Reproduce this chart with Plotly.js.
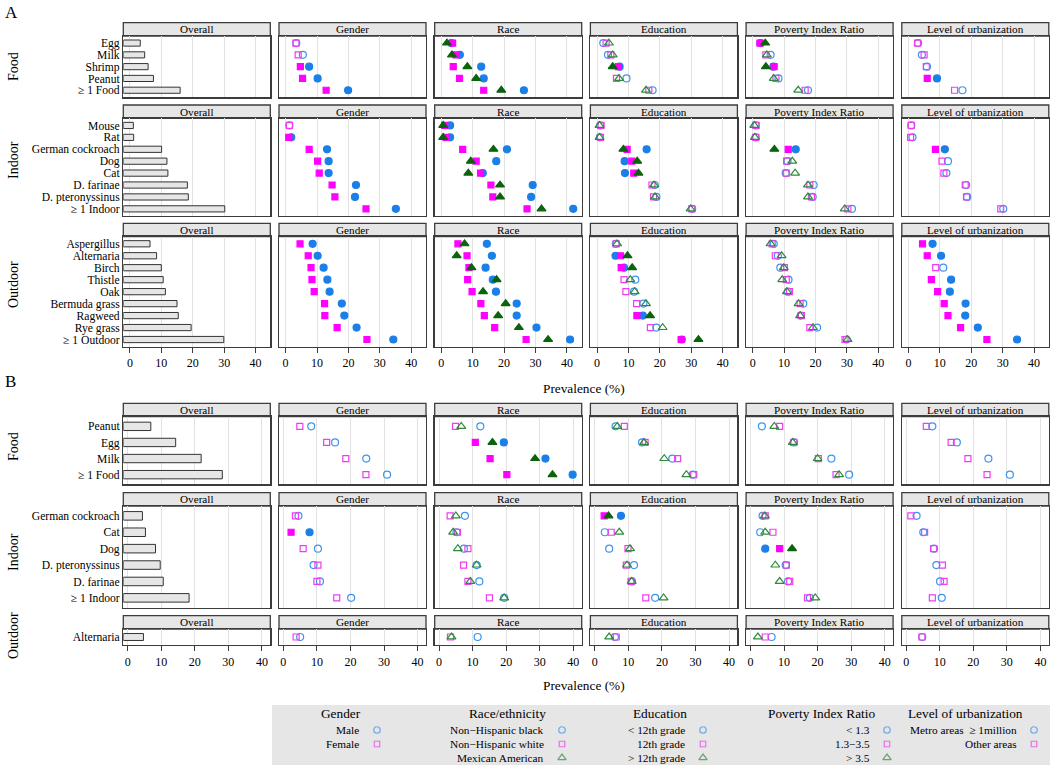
<!DOCTYPE html>
<html><head><meta charset="utf-8">
<script src="https://cdn.plot.ly/plotly-3.0.1.min.js"></script>
<style>html,body{margin:0;padding:0;background:#fff}#chart{width:1050px;height:765px}</style>
</head><body><div id="chart"></div>
<script>
// ---------------- DATA ----------------
// Panel A - Food
const A_food_items = ['Egg','Milk','Shrimp','Peanut','≥ 1 Food'];
const A_food_overall = [3.3, 4.7, 5.8, 7.5, 16.0];
const A_food_male = [3.4, 5.5, 7.5, 10.2, 19.9];
const A_food_female = [3.3, 4.0, 4.7, 5.4, 12.9];
const A_food_gender_sig = [0,0,1,1,1];
const A_food_black = [3.2, 5.9, 12.7, 13.5, 26.3];
const A_food_white = [3.6, 4.7, 3.8, 5.8, 13.5];
const A_food_mexican = [1.8, 3.4, 8.3, 11.1, 19.1];
const A_food_race_sig = [1,1,1,1,1];
const A_food_edu_lt12 = [2.0, 3.5, 7.2, 9.4, 17.7];
const A_food_edu_12 = [2.9, 4.4, 6.8, 6.2, 16.5];
const A_food_edu_gt12 = [3.8, 5.0, 5.0, 7.0, 15.6];
const A_food_edu_sig = [0,0,1,0,0];
const A_food_pir_lt13 = [2.5, 5.7, 6.6, 8.2, 17.6];
const A_food_pir_13to35 = [2.3, 4.2, 6.8, 7.4, 16.7];
const A_food_pir_gt35 = [4.0, 4.5, 4.2, 6.7, 14.5];
const A_food_pir_sig = [1,0,1,0,0];
const A_food_metro = [3.1, 4.3, 5.9, 9.1, 17.2];
const A_food_other = [2.9, 5.0, 5.7, 6.0, 14.7];
const A_food_urban_sig = [0,0,0,1,0];

// Panel A - Indoor
const A_indoor_items = ['Mouse','Rat','German cockroach','Dog','Cat','D. farinae','D. pteronyssinus','≥ 1 Indoor'];
const A_indoor_overall = [1.1, 1.2, 10.1, 11.8, 12.1, 18.3, 18.6, 30.2];
const A_indoor_male = [1.2, 1.8, 13.2, 13.7, 13.7, 22.4, 22.1, 35.1];
const A_indoor_female = [1.2, 1.0, 7.5, 10.2, 10.7, 14.8, 15.7, 25.6];
const A_indoor_gender_sig = [0,1,1,1,1,1,1,1];
const A_indoor_black = [2.8, 2.8, 20.9, 17.5, 13.2, 29.1, 28.6, 42.0];
const A_indoor_white = [1.1, 1.5, 6.8, 11.1, 12.5, 15.8, 16.4, 27.3];
const A_indoor_mexican = [0.6, 0.6, 16.6, 9.4, 8.6, 18.7, 18.7, 31.9];
const A_indoor_race_sig = [1,1,1,1,1,1,1,1];
const A_indoor_edu_lt12 = [1.0, 0.9, 15.8, 8.8, 8.9, 18.4, 18.9, 30.3];
const A_indoor_edu_12 = [1.3, 1.1, 9.6, 11.1, 11.7, 17.5, 18.0, 30.2];
const A_indoor_edu_gt12 = [0.8, 0.8, 8.4, 12.8, 13.2, 18.2, 18.5, 29.8];
const A_indoor_edu_sig = [0,0,1,1,1,0,0,0];
const A_indoor_pir_lt13 = [0.9, 0.9, 13.7, 11.1, 10.5, 19.4, 19.1, 31.6];
const A_indoor_pir_13to35 = [1.1, 1.0, 11.3, 10.8, 10.7, 18.2, 18.7, 30.3];
const A_indoor_pir_gt35 = [0.5, 0.7, 6.9, 12.6, 13.5, 17.6, 17.6, 29.3];
const A_indoor_pir_sig = [0,0,1,0,0,0,0,0];
const A_indoor_metro = [0.9, 1.3, 11.6, 12.6, 12.1, 18.4, 18.7, 30.2];
const A_indoor_other = [0.9, 0.7, 8.6, 10.7, 11.3, 18.1, 18.5, 29.4];
const A_indoor_urban_sig = [0,0,1,0,0,0,0,0];

// Panel A - Outdoor
const A_outdoor_items = ['Aspergillus','Alternaria','Birch','Thistle','Oak','Bermuda grass','Ragweed','Rye grass','≥ 1 Outdoor'];
const A_outdoor_overall = [6.4, 8.5, 10.0, 10.6, 11.3, 15.0, 15.4, 19.5, 29.9];
const A_outdoor_male = [8.6, 10.2, 12.1, 13.3, 14.0, 17.9, 18.7, 22.6, 34.3];
const A_outdoor_female = [4.6, 7.2, 8.1, 8.4, 9.1, 12.4, 12.5, 16.4, 25.9];
const A_outdoor_gender_sig = [1,1,1,1,1,1,1,1,1];
const A_outdoor_black = [14.5, 16.1, 14.1, 16.4, 17.4, 24.0, 24.0, 30.3, 41.0];
const A_outdoor_white = [5.3, 8.2, 8.8, 8.4, 9.8, 12.6, 13.7, 17.0, 27.0];
const A_outdoor_mexican = [7.4, 4.9, 9.6, 17.6, 13.3, 20.5, 18.1, 24.7, 34.0];
const A_outdoor_race_sig = [1,1,1,1,1,1,1,1,1];
const A_outdoor_edu_lt12 = [6.0, 5.9, 8.6, 12.2, 11.8, 14.8, 14.6, 18.9, 27.0];
const A_outdoor_edu_12 = [6.1, 7.5, 7.7, 8.6, 9.2, 12.6, 12.7, 17.0, 26.8];
const A_outdoor_edu_gt12 = [6.4, 9.7, 11.2, 10.6, 12.0, 15.6, 16.9, 20.9, 32.3];
const A_outdoor_edu_sig = [0,1,1,0,0,0,1,0,1];
const A_outdoor_pir_lt13 = [6.7, 8.0, 8.8, 11.4, 11.2, 16.1, 15.3, 20.5, 29.9];
const A_outdoor_pir_13to35 = [6.2, 7.2, 10.1, 10.7, 11.7, 15.1, 15.5, 18.2, 29.4];
const A_outdoor_pir_gt35 = [5.7, 9.2, 9.9, 9.4, 10.9, 14.6, 15.1, 19.2, 30.2];
const A_outdoor_pir_sig = [0,0,0,0,0,0,0,0,0];
const A_outdoor_metro = [7.7, 10.4, 11.1, 13.6, 13.2, 18.2, 18.1, 22.1, 34.6];
const A_outdoor_other = [4.5, 6.0, 8.7, 7.3, 9.3, 11.4, 12.6, 16.6, 25.0];
const A_outdoor_urban_sig = [1,1,0,1,1,1,1,1,1];

// Panel B - Food
const B_food_items = ['Peanut','Egg','Milk','≥ 1 Food'];
const B_food_overall = [6.9, 14.3, 21.9, 28.2];
const B_food_male = [8.3, 15.4, 24.7, 30.9];
const B_food_female = [4.9, 12.9, 18.6, 24.6];
const B_food_gender_sig = [0,0,0,0];
const B_food_black = [12.3, 19.3, 31.7, 39.8];
const B_food_white = [4.9, 10.8, 15.2, 20.2];
const B_food_mexican = [6.6, 15.9, 28.6, 33.8];
const B_food_race_sig = [0,1,1,1];
const B_food_edu_lt12 = [6.2, 14.1, 23.1, 29.2];
const B_food_edu_12 = [8.8, 15.0, 24.7, 29.5];
const B_food_edu_gt12 = [6.7, 14.7, 20.7, 27.3];
const B_food_edu_sig = [0,0,0,0];
const B_food_pir_lt13 = [3.4, 13.0, 24.1, 29.4];
const B_food_pir_13to35 = [8.7, 12.9, 20.2, 25.5];
const B_food_pir_gt35 = [7.1, 12.6, 20.0, 26.4];
const B_food_pir_sig = [0,0,0,0];
const B_food_metro = [7.8, 15.1, 24.5, 30.9];
const B_food_other = [6.0, 13.4, 18.4, 24.1];
const B_food_urban_sig = [0,0,0,0];

// Panel B - Indoor
const B_indoor_items = ['German cockroach','Cat','Dog','D. pteronyssinus','D. farinae','≥ 1 Indoor'];
const B_indoor_overall = [4.4, 5.3, 8.3, 9.7, 10.6, 18.3];
const B_indoor_male = [4.5, 7.8, 10.3, 9.0, 10.9, 20.2];
const B_indoor_female = [3.6, 2.3, 5.9, 10.3, 10.0, 15.9];
const B_indoor_gender_sig = [0,1,0,0,0,0];
const B_indoor_black = [7.7, 5.2, 7.4, 11.2, 12.0, 19.4];
const B_indoor_white = [3.3, 5.5, 8.6, 7.3, 8.6, 15.0];
const B_indoor_mexican = [5.0, 4.2, 5.6, 11.2, 9.3, 19.4];
const B_indoor_race_sig = [0,0,0,0,0,0];
const B_indoor_edu_lt12 = [7.8, 3.0, 4.3, 11.7, 11.1, 18.0];
const B_indoor_edu_12 = [2.8, 4.9, 9.9, 9.4, 10.8, 15.2];
const B_indoor_edu_gt12 = [4.1, 7.3, 10.5, 9.6, 11.0, 20.5];
const B_indoor_edu_sig = [1,0,0,0,0,0];
const B_indoor_pir_lt13 = [3.6, 2.9, 4.4, 10.5, 11.2, 17.7];
const B_indoor_pir_13to35 = [4.4, 6.7, 8.7, 10.7, 11.7, 17.0];
const B_indoor_pir_gt35 = [4.3, 4.4, 12.4, 7.4, 8.7, 19.3];
const B_indoor_pir_sig = [0,0,1,0,0,0];
const B_indoor_metro = [3.1, 5.1, 8.3, 9.0, 10.1, 10.6];
const B_indoor_other = [1.4, 5.5, 8.2, 10.8, 11.3, 7.8];
const B_indoor_urban_sig = [0,0,0,0,0,0];

// Panel B - Outdoor
const B_outdoor_items = ['Alternaria'];
const B_outdoor_overall = [4.7];
const B_outdoor_male = [5.0];
const B_outdoor_female = [3.8];
const B_outdoor_gender_sig = [0];
const B_outdoor_black = [11.5];
const B_outdoor_white = [3.4];
const B_outdoor_mexican = [3.7];
const B_outdoor_race_sig = [0];
const B_outdoor_edu_lt12 = [6.0];
const B_outdoor_edu_12 = [6.4];
const B_outdoor_edu_gt12 = [4.3];
const B_outdoor_edu_sig = [0];
const B_outdoor_pir_lt13 = [6.3];
const B_outdoor_pir_13to35 = [4.4];
const B_outdoor_pir_gt35 = [2.2];
const B_outdoor_pir_sig = [0];
const B_outdoor_metro = [4.8];
const B_outdoor_other = [4.7];
const B_outdoor_urban_sig = [0];

const columnTitles = ['Overall','Gender','Race','Education','Poverty Index Ratio','Level of urbanization'];
const xTickVals = [0, 10, 20, 30, 40];
const legendTitles = ['Gender','Race/ethnicity','Education','Poverty Index Ratio','Level of urbanization'];
const legendLabels = [
  ['Male','Female'],
  ['Non\u2212Hispanic black','Non\u2212Hispanic white','Mexican American'],
  ['< 12th grade','12th grade','> 12th grade'],
  ['< 1.3','1.3\u22123.5','> 3.5'],
  ['Metro areas  \u2265 1million','Other areas']
];

// ---------------- LAYOUT / STYLE ----------------
const W = 1050, H = 765;
const FONT = 'Liberation Serif, Times New Roman, serif';
const COL_X0 = [123.3, 279, 434.7, 590.4, 746.1, 901.8], COL_W = 147;
const STRIP_H = 13.3;
const SYM = ['circle','square','triangle-up'];
const FILL = ['#1a7fe8','#ff00ff','#0b630b'];
const OPEN = ['#3d94f0','#f03cf0','#2f8a3a'];
const SIZE = [7, 6, 7.8];
const XR_A = [-2.1, 44.7], XR_B = [-1.3, 42.5];

function sec(label, y0, y1, ylab, xr, axis, items, overall, groups, sig) {
  return {label, y0, y1, ylab, xr, axis, items, overall, groups, sig};
}
const sections = [
  sec('Food', 36, 97.3, 67, XR_A, false, A_food_items, A_food_overall,
    [[A_food_male, A_food_female],[A_food_black, A_food_white, A_food_mexican],[A_food_edu_lt12, A_food_edu_12, A_food_edu_gt12],[A_food_pir_lt13, A_food_pir_13to35, A_food_pir_gt35],[A_food_metro, A_food_other]],
    [A_food_gender_sig, A_food_race_sig, A_food_edu_sig, A_food_pir_sig, A_food_urban_sig]),
  sec('Indoor', 118.3, 216, 160, XR_A, false, A_indoor_items, A_indoor_overall,
    [[A_indoor_male, A_indoor_female],[A_indoor_black, A_indoor_white, A_indoor_mexican],[A_indoor_edu_lt12, A_indoor_edu_12, A_indoor_edu_gt12],[A_indoor_pir_lt13, A_indoor_pir_13to35, A_indoor_pir_gt35],[A_indoor_metro, A_indoor_other]],
    [A_indoor_gender_sig, A_indoor_race_sig, A_indoor_edu_sig, A_indoor_pir_sig, A_indoor_urban_sig]),
  sec('Outdoor', 236.6, 346.7, 285, XR_A, true, A_outdoor_items, A_outdoor_overall,
    [[A_outdoor_male, A_outdoor_female],[A_outdoor_black, A_outdoor_white, A_outdoor_mexican],[A_outdoor_edu_lt12, A_outdoor_edu_12, A_outdoor_edu_gt12],[A_outdoor_pir_lt13, A_outdoor_pir_13to35, A_outdoor_pir_gt35],[A_outdoor_metro, A_outdoor_other]],
    [A_outdoor_gender_sig, A_outdoor_race_sig, A_outdoor_edu_sig, A_outdoor_pir_sig, A_outdoor_urban_sig]),
  sec('Food', 416.7, 484.3, 447, XR_B, false, B_food_items, B_food_overall,
    [[B_food_male, B_food_female],[B_food_black, B_food_white, B_food_mexican],[B_food_edu_lt12, B_food_edu_12, B_food_edu_gt12],[B_food_pir_lt13, B_food_pir_13to35, B_food_pir_gt35],[B_food_metro, B_food_other]],
    [B_food_gender_sig, B_food_race_sig, B_food_edu_sig, B_food_pir_sig, B_food_urban_sig]),
  sec('Indoor', 506, 607.7, 552, XR_B, false, B_indoor_items, B_indoor_overall,
    [[B_indoor_male, B_indoor_female],[B_indoor_black, B_indoor_white, B_indoor_mexican],[B_indoor_edu_lt12, B_indoor_edu_12, B_indoor_edu_gt12],[B_indoor_pir_lt13, B_indoor_pir_13to35, B_indoor_pir_gt35],[B_indoor_metro, B_indoor_other]],
    [B_indoor_gender_sig, B_indoor_race_sig, B_indoor_edu_sig, B_indoor_pir_sig, B_indoor_urban_sig]),
  sec('Outdoor', 629, 645, 636, XR_B, true, B_outdoor_items, B_outdoor_overall,
    [[B_outdoor_male, B_outdoor_female],[B_outdoor_black, B_outdoor_white, B_outdoor_mexican],[B_outdoor_edu_lt12, B_outdoor_edu_12, B_outdoor_edu_gt12],[B_outdoor_pir_lt13, B_outdoor_pir_13to35, B_outdoor_pir_gt35],[B_outdoor_metro, B_outdoor_other]],
    [B_outdoor_gender_sig, B_outdoor_race_sig, B_outdoor_edu_sig, B_outdoor_pir_sig, B_outdoor_urban_sig])
];

const px = v => v / W, py = v => 1 - v / H;
const traces = [];
const layout = {
  width: W, height: H, margin: {l:0, r:0, t:0, b:0},
  paper_bgcolor: '#ffffff', plot_bgcolor: 'rgba(0,0,0,0)',
  showlegend: false, font: {family: FONT, color: '#000'},
  shapes: [], annotations: [], hovermode: false
};

let k = 0;
sections.forEach(s => {
  const n = s.items.length;
  for (let c = 0; c < 6; c++) {
    k++;
    const sfx = k === 1 ? '' : String(k);
    const xa = 'x' + sfx, ya = 'y' + sfx;
    layout['xaxis' + sfx] = {
      domain: [px(COL_X0[c]), px(COL_X0[c] + COL_W)], anchor: ya,
      range: s.xr, autorange: false, tickmode: 'array', tickvals: xTickVals, ticktext: xTickVals.map(String),
      showgrid: true, gridcolor: '#e2e2e2', gridwidth: 1, zeroline: false,
      showline: true, mirror: true, linecolor: '#3c3c3c', linewidth: 1.3,
      ticks: s.axis ? 'outside' : '', ticklen: 5, tickcolor: '#3c3c3c', tickwidth: 1,
      showticklabels: s.axis, tickfont: {family: FONT, size: 12, color: '#000'}
    };
    layout['yaxis' + sfx] = {
      domain: [py(s.y1), py(s.y0)], anchor: xa, type: 'category',
      categoryorder: 'array', categoryarray: s.items,
      tickmode: 'array', tickvals: s.items, ticktext: s.items,
      range: [n - 0.4, -0.6], autorange: false,
      showgrid: false, zeroline: false, showline: true, mirror: true,
      linecolor: '#3c3c3c', linewidth: 1.3, ticks: '',
      showticklabels: c === 0, tickfont: {family: FONT, size: 11.6, color: '#000'}
    };
    if (c === 0) {
      traces.push({
        type: 'bar', orientation: 'h', xaxis: xa, yaxis: ya,
        y: s.items, x: s.overall.map(v => v - s.xr[0]), base: s.xr[0], width: 0.52,
        marker: {color: '#e6e6e6', line: {color: '#333', width: 1}}
      });
    } else {
      const gs = s.groups[c - 1], sg = s.sig[c - 1];
      gs.forEach((vals, g) => {
        const cols = sg.map(f => f ? FILL[g] : OPEN[g]);
        traces.push({
          type: 'scatter', mode: 'markers', xaxis: xa, yaxis: ya,
          x: vals, y: s.items, cliponaxis: false,
          marker: {
            symbol: sg.map(f => f ? SYM[g] : SYM[g] + '-open'),
            color: cols, size: SIZE[g], line: {color: cols, width: 1.2}
          }
        });
      });
    }
    // strip
    layout.shapes.push({
      type: 'rect', xref: 'paper', yref: 'paper', layer: 'below',
      x0: px(COL_X0[c]), x1: px(COL_X0[c] + COL_W), y0: py(s.y0), y1: py(s.y0 - STRIP_H),
      fillcolor: '#e6e6e6', line: {color: '#3c3c3c', width: 1.3}
    });
    layout.annotations.push({
      xref: 'paper', yref: 'paper', x: px(COL_X0[c] + COL_W / 2), y: py(s.y0 - STRIP_H / 2),
      text: columnTitles[c], showarrow: false, xanchor: 'center', yanchor: 'middle',
      font: {family: FONT, size: 11.2, color: '#000'}
    });
  }
  layout.annotations.push({
    xref: 'paper', yref: 'paper', x: px(13), y: py(s.ylab), text: s.label, textangle: -90,
    showarrow: false, xanchor: 'center', yanchor: 'middle', font: {family: FONT, size: 14, color: '#000'}
  });
});

// panel letters and x titles
[['A', 1], ['B', 370]].forEach(([t, y]) => layout.annotations.push({
  xref: 'paper', yref: 'paper', x: px(3), y: py(y), text: t, showarrow: false,
  xanchor: 'left', yanchor: 'top', font: {family: FONT, size: 17, color: '#000'}
}));
[388, 685].forEach(y => layout.annotations.push({
  xref: 'paper', yref: 'paper', x: px(584), y: py(y), text: 'Prevalence (%)', showarrow: false,
  xanchor: 'center', yanchor: 'middle', font: {family: FONT, size: 13.3, color: '#000'}
}));

// legend
layout.shapes.push({type: 'rect', xref: 'paper', yref: 'paper', layer: 'below',
  x0: px(272), x1: px(1050), y0: py(765), y1: py(705), fillcolor: '#e6e6e6', line: {width: 0}});
const LG_TITLE_X = [341, 507, 660, 821, 965.5];
const LG_LABEL_X = [361, 546, 687, 872, 1019];
const LG_MARK_X = [377, 562, 703, 887, 1034];
const LG_ROW_Y = [730, 744, 757.7];
const lgX = [], lgY = [], lgS = [], lgC = [], lgZ = [];
legendTitles.forEach((t, i) => {
  layout.annotations.push({xref: 'paper', yref: 'paper', x: px(LG_TITLE_X[i]), y: py(713.5), text: t,
    showarrow: false, xanchor: 'center', yanchor: 'middle', font: {family: FONT, size: 13.3, color: '#000'}});
  legendLabels[i].forEach((lab, j) => {
    layout.annotations.push({xref: 'paper', yref: 'paper', x: px(LG_LABEL_X[i]), y: py(LG_ROW_Y[j]), text: lab,
      showarrow: false, xanchor: 'right', yanchor: 'middle', font: {family: FONT, size: 11.3, color: '#000'}});
    lgX.push(LG_MARK_X[i]); lgY.push(LG_ROW_Y[j]); lgS.push(SYM[j] + '-open'); lgC.push(OPEN[j]); lgZ.push(SIZE[j] - 0.5);
  });
});
layout.xaxis99 = {domain: [0, 1], range: [0, W], visible: false, anchor: 'y99'};
layout.yaxis99 = {domain: [0, 1], range: [H, 0], visible: false, anchor: 'x99'};
traces.push({type: 'scatter', mode: 'markers', xaxis: 'x99', yaxis: 'y99', x: lgX, y: lgY,
  marker: {symbol: lgS, color: lgC, size: lgZ, line: {color: lgC, width: 1.2}}});

Plotly.newPlot('chart', traces, layout, {staticPlot: true, displayModeBar: false});
</script>
</body></html>
